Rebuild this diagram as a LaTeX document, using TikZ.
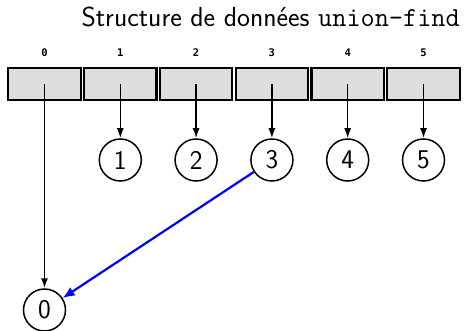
\documentclass[tikz,border=0pt]{standalone}
\usepackage{fontspec}
\newfontfamily\idxfont{DejaVu Sans Mono}
\usetikzlibrary{arrows.meta}
\definecolor{cellgray}{HTML}{DDDDDD}
\begin{document}
\begin{tikzpicture}[x=1pt,y=-1pt,
  cell/.style={draw=black,line width=2.2pt,fill=cellgray,minimum width=72.5pt,minimum height=31.5pt,inner sep=0pt,outer sep=0pt},
  idx/.style={font=\fontsize{10.5}{12}\selectfont\idxfont\bfseries},
  elem/.style={circle,draw=black,line width=1.5pt,minimum size=42pt,inner sep=0pt,font=\fontsize{27}{31}\selectfont\sffamily},
  ptr/.style={line width=1.5pt,-{Latex[length=10pt,width=7pt]}},
  link/.style={draw=blue,line width=2.2pt,-{Latex[length=12pt,width=10pt]}}
]
\useasboundingbox (0,0) rectangle (465,331);
\node[anchor=base east,inner sep=0pt,font=\fontsize{27.5}{31}\selectfont\sffamily] (title) at (460,27) {Structure de données \texttt{union-find}};
\foreach \i in {0,...,5}{
  \node[cell] (c\i) at ({44.5+75.8*\i},84) {};
  \node[idx] (l\i) at ({44.5+75.8*\i},53) {\i};
}
\foreach \i in {1,...,5}{
  \node[elem] (n\i) at ({44.5+75.8*\i},160) {\i};
  \draw[ptr] (c\i.center) -- (n\i);
}
\node[elem] (n0) at (44.5,310) {0};
\draw[ptr] (c0.center) -- (n0);
\draw[link] (n3) -- (n0);
\end{tikzpicture}
\end{document}
